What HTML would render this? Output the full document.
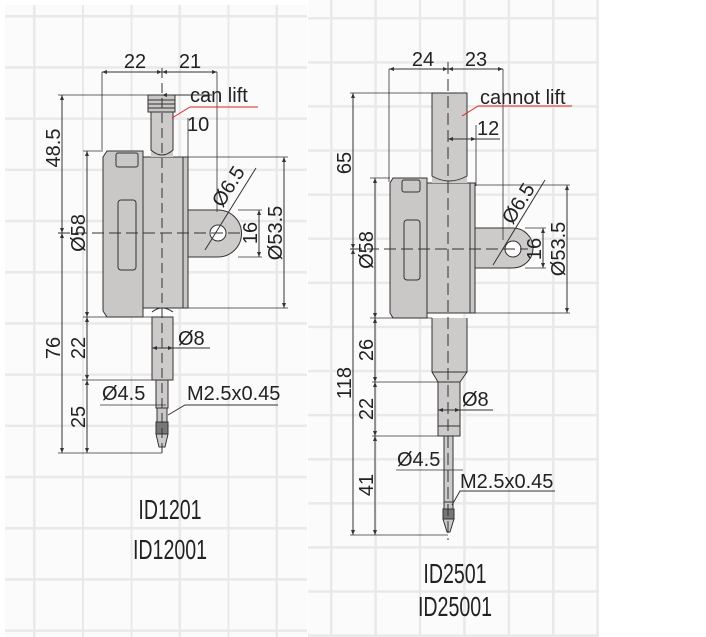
<!DOCTYPE html>
<html><head><meta charset="utf-8"><style>
html,body{margin:0;padding:0;background:#fff}
svg{display:block}
text{font-family:"Liberation Sans",sans-serif;fill:#222}
.d{font-size:20px}
.id{font-size:28px}
</style></head><body>
<svg width="706" height="637" viewBox="0 0 706 637" xmlns="http://www.w3.org/2000/svg">
<defs>
<marker id="a" viewBox="0 0 10 10" refX="10" refY="5" markerWidth="7" markerHeight="5" orient="auto-start-reverse"><path d="M0,1 L10,5 L0,9z" fill="#333"/></marker>
<pattern id="gl" x="33" y="15" width="48.5" height="51.2" patternUnits="userSpaceOnUse"><path d="M0,0 V51.2 M0,0 H48.5" stroke="#e9e9e9" stroke-width="5" fill="none"/></pattern>
<pattern id="gr" x="330" y="17" width="44.4" height="44.1" patternUnits="userSpaceOnUse"><path d="M0,0 V44.1 M0,0 H44.4" stroke="#e9e9e9" stroke-width="5" fill="none"/></pattern>
</defs>
<rect x="5" y="5" width="302" height="632" fill="#fbfbfb"/>
<rect x="5" y="5" width="302" height="632" fill="url(#gl)"/>
<rect x="308" y="0" width="291" height="637" fill="#fbfbfb"/>
<rect x="308" y="0" width="291" height="637" fill="url(#gr)"/>

<g stroke="#333" stroke-width="1" fill="none">
<path d="M103,157 L107,151 L143,151 L143,317 L107,317 L103,311Z" fill="#cac7c7"/>
<rect x="116" y="153" width="22" height="14" rx="2" fill="#cac7c7"/>
<rect x="118" y="200" width="18" height="70" rx="3" fill="#cac7c7"/>
<path d="M143,157 L183,157 L183,308 L143,308Z" fill="#cdcaca"/>
<rect x="183" y="157" width="5" height="151" fill="#c9c6c6"/>
<path d="M188,210 L218,210 A23,23 0 0 1 218,257 L188,257Z" fill="#cdcaca"/>
<circle cx="218" cy="233" r="8" fill="#fff"/>
<rect x="151" y="112" width="22" height="45" fill="#cdcaca" stroke="none"/>
<path d="M151,112 V150 Q162,160 173,150 V112"/>
<rect x="148" y="95" width="27" height="17" fill="#c9c6c6"/>
<path d="M148,100 H175 M148,104 H175 M148,108 H175"/>
<rect x="152" y="317" width="21" height="63" fill="#cdcaca"/>
<path d="M152,312 Q162,304 173,312" />
<rect x="156" y="380" width="12" height="28" fill="#cdcaca"/>
<rect x="157" y="408" width="10" height="14" fill="#c9c6c6"/>
<rect x="156" y="422" width="12" height="12" fill="#777"/>
<path d="M156,434 L159,447 L165,447 L168,434Z" fill="#cdcaca"/>
<path d="M162,68 V455" stroke-dasharray="10,5"/>
<path d="M58,233 H242" stroke-dasharray="12,5"/>
<path d="M102,72 V150 M217,72 V212 M58,95 H148 M188,118 V160 M188,157 H288 M188,308 H288 M83,151 H103 M83,317 H152 M238,210 H262 M238,257 H262 M82,380 H156 M58,453 H162 M100,405 H166" stroke-width="0.8"/>
<path d="M102,72 H162" marker-start="url(#a)" marker-end="url(#a)"/>
<path d="M162,72 H217" marker-start="url(#a)" marker-end="url(#a)"/>
<path d="M62,95 V233" marker-start="url(#a)" marker-end="url(#a)"/>
<path d="M62,233 V453" marker-start="url(#a)" marker-end="url(#a)"/>
<path d="M87,151 V317" marker-start="url(#a)" marker-end="url(#a)"/>
<path d="M87,317 V380" marker-start="url(#a)" marker-end="url(#a)"/>
<path d="M87,380 V453" marker-start="url(#a)" marker-end="url(#a)"/>
<path d="M284,157 V308" marker-start="url(#a)" marker-end="url(#a)"/>
<path d="M259,210 V257" marker-start="url(#a)" marker-end="url(#a)"/>
<path d="M162,95 H188" marker-start="url(#a)"/><path d="M188,95 H212"/>
<path d="M152,348 H173" marker-start="url(#a)" marker-end="url(#a)"/><path d="M173,348 H210"/>
<path d="M205,250 L256,168"/>
<path d="M168,415 L185,405 H278"/>
<path d="M172,118 L190,107" stroke="#d22"/><path d="M190,107 H258" stroke="#d22"/>

<path d="M390,183 L393,178 L427,178 L427,318 L393,318 L390,313Z" fill="#cac7c7"/>
<rect x="402" y="180" width="18" height="12" rx="2" fill="#cac7c7"/>
<rect x="404" y="220" width="16" height="60" rx="3" fill="#cac7c7"/>
<rect x="427" y="183" width="43" height="130" fill="#cdcaca"/>
<rect x="470" y="183" width="5" height="130" fill="#c9c6c6"/>
<path d="M475,228 L513,228 A20,20 0 0 1 513,268 L475,268Z" fill="#cdcaca"/>
<circle cx="513" cy="249" r="8" fill="#fff"/>
<rect x="432" y="93" width="35" height="90" fill="#cdcaca" stroke="none"/>
<path d="M432,93 V176 Q449,186 467,176 V93 Z" fill="#cdcaca"/>
<path d="M432,318 V372 L438,382 H460 L467,372 V318" fill="#cdcaca"/>
<path d="M432,372 H467"/>
<rect x="438" y="382" width="22" height="44" fill="#cdcaca"/>
<rect x="438" y="426" width="22" height="10" fill="#cdcaca"/>
<rect x="444" y="436" width="9" height="66" fill="#cdcaca"/>
<rect x="444" y="502" width="9" height="7" fill="#c9c6c6"/>
<rect x="443" y="509" width="11" height="10" fill="#777"/>
<path d="M443,519 L447,532 L450,532 L454,519Z" fill="#cdcaca"/>
<path d="M448,62 V540" stroke-dasharray="12,5"/>
<path d="M350,249 H528" stroke-dasharray="12,5"/>
<path d="M389,69 V182 M503,69 V240 M350,93 H432 M476,125 V186 M475,185 H570 M475,313 H570 M370,178 H390 M370,318 H432 M525,228 H546 M525,268 H546 M372,382 H438 M372,436 H444 M350,535 H448 M396,470 H463" stroke-width="0.8"/>
<path d="M389,69 H448" marker-start="url(#a)" marker-end="url(#a)"/>
<path d="M448,69 H503" marker-start="url(#a)" marker-end="url(#a)"/>
<path d="M353,93 V249" marker-start="url(#a)" marker-end="url(#a)"/>
<path d="M353,249 V535" marker-start="url(#a)" marker-end="url(#a)"/>
<path d="M375,178 V318" marker-start="url(#a)" marker-end="url(#a)"/>
<path d="M375,318 V382" marker-start="url(#a)" marker-end="url(#a)"/>
<path d="M375,382 V436" marker-start="url(#a)" marker-end="url(#a)"/>
<path d="M375,436 V535" marker-start="url(#a)" marker-end="url(#a)"/>
<path d="M567,185 V313" marker-start="url(#a)" marker-end="url(#a)"/>
<path d="M543,228 V268" marker-start="url(#a)" marker-end="url(#a)"/>
<path d="M448,139 H476" marker-start="url(#a)" marker-end="url(#a)"/><path d="M476,139 H500"/>
<path d="M438,410 H460" marker-start="url(#a)" marker-end="url(#a)"/><path d="M460,410 H493"/>
<path d="M493,265 L545,180"/>
<path d="M452,505 L460,491 H555"/>
<path d="M462,116 L478,106" stroke="#d22"/><path d="M478,106 H572" stroke="#d22"/>
</g>

<g class="d">
<text x="135" y="68" text-anchor="middle">22</text>
<text x="190" y="68" text-anchor="middle">21</text>
<text x="190" y="102">can lift</text>
<text x="187" y="131">10</text>
<text x="178" y="345">Ø8</text>
<text x="102" y="400">Ø4.5</text>
<text x="187" y="400">M2.5x0.45</text>
<text transform="translate(60,148) rotate(-90)" text-anchor="middle">48.5</text>
<text transform="translate(85,233) rotate(-90)" text-anchor="middle">Ø58</text>
<text transform="translate(60,348) rotate(-90)" text-anchor="middle">76</text>
<text transform="translate(85,348) rotate(-90)" text-anchor="middle">22</text>
<text transform="translate(85,417) rotate(-90)" text-anchor="middle">25</text>
<text transform="translate(257,233) rotate(-90)" text-anchor="middle">16</text>
<text transform="translate(282,233) rotate(-90)" text-anchor="middle">Ø53.5</text>
<text transform="translate(234,190) rotate(-58)" text-anchor="middle">Ø6.5</text>

<text x="423" y="66" text-anchor="middle">24</text>
<text x="476" y="66" text-anchor="middle">23</text>
<text x="480" y="104">cannot lift</text>
<text x="477" y="135">12</text>
<text x="462" y="406">Ø8</text>
<text x="397" y="466">Ø4.5</text>
<text x="460" y="488">M2.5x0.45</text>
<text transform="translate(351,163) rotate(-90)" text-anchor="middle">65</text>
<text transform="translate(373,250) rotate(-90)" text-anchor="middle">Ø58</text>
<text transform="translate(351,383) rotate(-90)" text-anchor="middle">118</text>
<text transform="translate(373,350) rotate(-90)" text-anchor="middle">26</text>
<text transform="translate(373,409) rotate(-90)" text-anchor="middle">22</text>
<text transform="translate(373,485) rotate(-90)" text-anchor="middle">41</text>
<text transform="translate(541,249) rotate(-90)" text-anchor="middle">16</text>
<text transform="translate(565,249) rotate(-90)" text-anchor="middle">Ø53.5</text>
<text transform="translate(524,207) rotate(-58)" text-anchor="middle">Ø6.5</text>
</g>
<g class="id" text-anchor="middle">
<text transform="translate(170,519) scale(0.7,1)">ID1201</text>
<text transform="translate(170,559) scale(0.7,1)">ID12001</text>
<text transform="translate(455,583) scale(0.7,1)">ID2501</text>
<text transform="translate(455,616) scale(0.7,1)">ID25001</text>
</g>
</svg>
</body></html>
